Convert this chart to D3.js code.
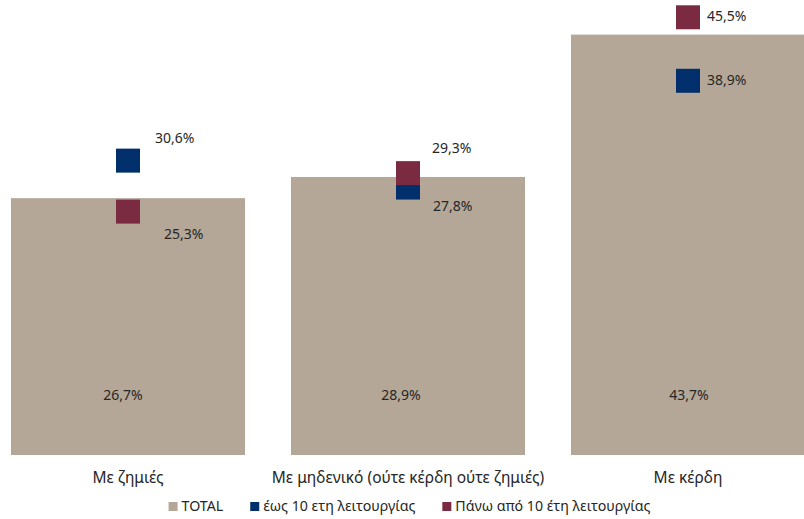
<!DOCTYPE html>
<html>
<head>
<meta charset="utf-8">
<script src="https://cdn.jsdelivr.net/npm/d3@7"></script>
<style>
  html, body { margin: 0; padding: 0; background: #fff; }
  svg { display: block; }
  text { font-family: "Noto Sans", sans-serif; fill: #262626; }
</style>
</head>
<body>
<svg id="chart" width="804" height="519"></svg>
<script>
// ---- data ----
const categories = ["Με ζημιές", "Με μηδενικό (ούτε κέρδη ούτε ζημιές)", "Με κέρδη"];
const seriesNames = ["TOTAL", "έως 10 ετη λειτουργίας", "Πάνω από 10 έτη λειτουργίας"];
const totalValues = [26.7, 28.9, 43.7];
const upTo10Values = [30.6, 27.8, 38.9];
const over10Values = [25.3, 29.3, 45.5];

// ---- styles ----
const colors = ["#b4a797", "#002f6c", "#7b2b41"];
// label offsets (dx, dy) from marker centre, per category
const upTo10LabelOffset = [[27, -21], [25, 20], [19, 0]];
const over10LabelOffset = [[36, 24], [24, -24], [19, 0]];
const totalLabelDx = [-5, -7, 1];

const fmt = v => v.toFixed(1).replace(".", ",") + "%";

const svg = d3.select("#chart");
const x = d3.scaleBand().domain(categories).range([-12, 828]).padding(0);
const y = d3.scaleLinear().domain([0, 45]).range([455, 455 - 45 * 9.62]);
const barW = x.bandwidth() * 0.836;
const cx = c => x(c) + x.bandwidth() / 2;

// bars
svg.append("g").selectAll("rect").data(categories).join("rect")
  .attr("x", c => cx(c) - barW / 2)
  .attr("y", (c, i) => y(totalValues[i]))
  .attr("width", barW)
  .attr("height", (c, i) => y(0) - y(totalValues[i]))
  .attr("fill", colors[0]);

// total labels
svg.append("g").selectAll("text").data(categories).join("text")
  .attr("x", (c, i) => cx(c) + totalLabelDx[i])
  .attr("y", 396)
  .attr("text-anchor", "middle")
  .attr("dominant-baseline", "middle")
  .attr("font-size", 14)
  .text((c, i) => fmt(totalValues[i]));

// markers
const ms = 24;
function markers(values, color, offsets) {
  const g = svg.append("g");
  g.selectAll("rect").data(categories).join("rect")
    .attr("x", c => cx(c) - ms / 2)
    .attr("y", (c, i) => y(values[i]) - ms / 2)
    .attr("width", ms).attr("height", ms)
    .attr("fill", color);
  g.selectAll("text").data(categories).join("text")
    .attr("x", (c, i) => cx(c) + offsets[i][0])
    .attr("y", (c, i) => y(values[i]) + offsets[i][1])
    .attr("dominant-baseline", "middle")
    .attr("font-size", 14)
    .text((c, i) => fmt(values[i]));
}
markers(upTo10Values, colors[1], upTo10LabelOffset);
markers(over10Values, colors[2], over10LabelOffset);

// category axis labels
const xAxis = d3.axisBottom(x).tickSize(0).tickPadding(0);
const ax = svg.append("g").attr("transform", "translate(0,471)").call(xAxis);
ax.select(".domain").remove();
ax.selectAll("text").attr("font-size", 15.5).attr("font-family", "Noto Sans, sans-serif")
  .attr("fill", "#262626").attr("dy", "0.75em").attr("y", 0);

// legend
const leg = svg.append("g");
let lx = 0;
seriesNames.forEach((name, i) => {
  const g = leg.append("g").attr("transform", `translate(${lx},0)`);
  g.append("rect").attr("x", 0).attr("y", 502).attr("width", 9).attr("height", 9).attr("fill", colors[i]);
  const t = g.append("text").attr("x", 13).attr("y", 507).attr("dominant-baseline", "middle")
    .attr("font-size", 14.2).text(name);
  lx += 13 + t.node().getComputedTextLength() + 27;
});
const legW = lx - 27;
leg.attr("transform", `translate(${409.5 - legW / 2},0)`);
</script>
</body>
</html>
